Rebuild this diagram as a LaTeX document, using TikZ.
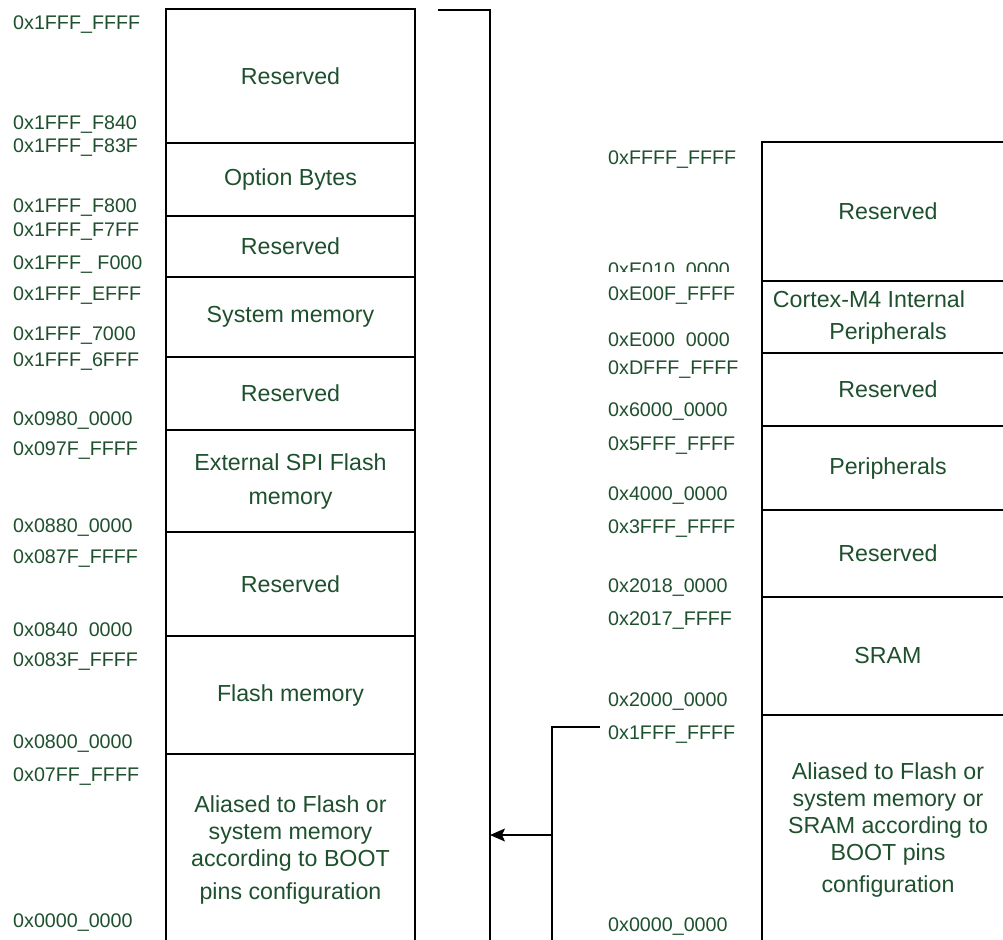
\documentclass[tikz,border=0pt]{standalone}
\usepackage{fontspec}
\setmainfont{Liberation Sans}
\usetikzlibrary{arrows.meta}
\definecolor{txt}{RGB}{30,80,45}
\begin{document}
\begin{tikzpicture}[x=1pt,y=-1pt,
 region/.style={draw=black, line width=1.3pt, rectangle, inner sep=0pt, outer sep=0pt, text=txt, font=\fontsize{23.2}{27}\selectfont, align=center},
 lregion/.style={region, minimum width=249pt},
 rregion/.style={region, minimum width=252pt},
 btext/.style={inner sep=0pt, text=txt, font=\fontsize{23.2}{27}\selectfont, align=center},
 addr/.style={anchor=west, inner sep=0pt, text=txt, font=\fontsize{19.7}{22}\selectfont, text height=14pt, text depth=0pt},
 link/.style={draw=black, line width=1.3pt}]
\useasboundingbox (0,0) rectangle (1003,939);
\clip (0,0) rectangle (1003,939);

% left column regions
\node[lregion, minimum height=134pt] (l1) at (290.5,76) {Reserved};
\node[lregion, minimum height=73pt] (l2) at (290.5,179.5) {\raisebox{-3pt}{Option Bytes}};
\node[lregion, minimum height=61pt] (l3) at (290.5,246.5) {Reserved};
\node[lregion, minimum height=80pt] (l4) at (290.5,317) {System memory};
\node[lregion, minimum height=73pt] (l5) at (290.5,393.5) {Reserved};
\node[lregion, minimum height=102pt] (l6) at (290.5,481) {External SPI Flash\\[7pt]memory};
\node[lregion, minimum height=104pt] (l7) at (290.5,584) {Reserved};
\node[lregion, minimum height=118pt] (l8) at (290.5,695) {Flash memory};
\node[lregion, minimum height=191pt] (l9) at (290.5,849.5) {Aliased to Flash or\\system memory\\according to BOOT\\[6pt]pins configuration};

% right column regions
\node[rregion, minimum height=139pt] (r1) at (888,211.5) {Reserved};
\node[rregion, minimum height=72pt] (r2) at (888,317) {};
\node[btext] (r2a) at (869,299) {Cortex-M4 Internal};
\node[btext] (r2b) at (888,333) {Peripherals};
\node[rregion, minimum height=73pt] (r3) at (888,389.5) {Reserved};
\node[rregion, minimum height=84pt] (r4) at (888,468) {Peripherals};
\node[rregion, minimum height=87pt] (r5) at (888,553.5) {Reserved};
\node[rregion, minimum height=118pt] (r6) at (888,656) {SRAM};
\node[rregion, minimum height=230pt] (r7) at (888,830) {Aliased to Flash or\\system memory or\\SRAM according to\\BOOT pins\\[5pt]configuration};

% left addresses
\node[addr] (a1) at (13,23) {0x1FFF\_FFFF};
\node[addr] (a2) at (13,122) {0x1FFF\_F840};
\node[addr] (a3) at (13,145) {0x1FFF\_F83F};
\node[addr] (a4) at (13,205) {0x1FFF\_F800};
\node[addr] (a5) at (13,229) {0x1FFF\_F7FF};
\node[addr] (a6) at (13,262) {0x1FFF\_ F000};
\node[addr] (a7) at (13,293) {0x1FFF\_EFFF};
\node[addr] (a8) at (13,333) {0x1FFF\_7000};
\node[addr] (a9) at (13,359) {0x1FFF\_6FFF};
\node[addr] (a10) at (13,418) {0x0980\_0000};
\node[addr] (a11) at (13,448) {0x097F\_FFFF};
\node[addr] (a12) at (13,525) {0x0880\_0000};
\node[addr] (a13) at (13,556) {0x087F\_FFFF};
\node[addr] (a14) at (13,629) {0x0840\ \ 0000};
\node[addr] (a15) at (13,659) {0x083F\_FFFF};
\node[addr] (a16) at (13,741) {0x0800\_0000};
\node[addr] (a17) at (13,774) {0x07FF\_FFFF};
\node[addr] (a18) at (13,920) {0x0000\_0000};

% right addresses
\node[addr] (b1) at (608,157) {0xFFFF\_FFFF};
\begin{scope}
\clip (600,240) rectangle (760,271.5);
\node[addr] (b2) at (608,269) {0xE010\_0000};
\end{scope}
\node[addr] (b3) at (608,293) {0xE00F\_FFFF};
\node[addr] (b4) at (608,339) {0xE000\ \ 0000};
\node[addr] (b5) at (608,367) {0xDFFF\_FFFF};
\node[addr] (b6) at (608,409) {0x6000\_0000};
\node[addr] (b7) at (608,443) {0x5FFF\_FFFF};
\node[addr] (b8) at (608,493) {0x4000\_0000};
\node[addr] (b9) at (608,526) {0x3FFF\_FFFF};
\node[addr] (b10) at (608,585) {0x2018\_0000};
\node[addr] (b11) at (608,618) {0x2017\_FFFF};
\node[addr] (b12) at (608,699) {0x2000\_0000};
\node[addr] (b13) at (608,732) {0x1FFF\_FFFF};
\node[addr] (b14) at (608,924) {0x0000\_0000};

% bracket and arrow
\coordinate (bs) at (438,10);
\coordinate (bc) at (490,10);
\coordinate (be) at (490,945);
\coordinate (bt) at (490,835);
\coordinate (ss) at (600,727);
\coordinate (sc) at (552,727);
\coordinate (se) at (552,945);
\coordinate (sj) at (552,835);
\draw[link] (bs) -- (bc) -- (be);
\draw[link] (ss) -- (sc) -- (se);
\draw[link, -{Stealth[length=15pt,width=13pt,inset=3pt]}] (sj) -- (bt);
\end{tikzpicture}
\end{document}
